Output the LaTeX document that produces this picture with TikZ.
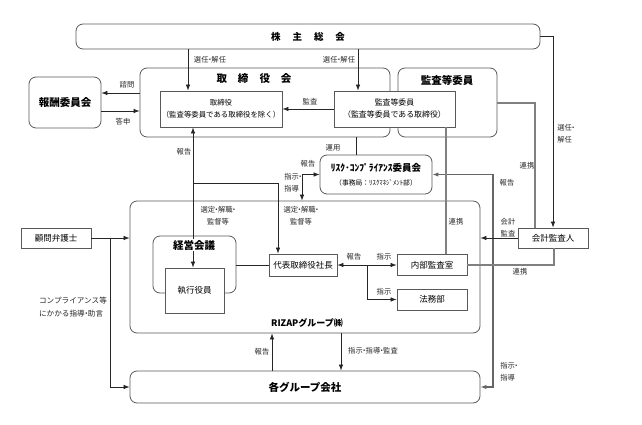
\documentclass[tikz,border=0pt]{standalone}
\usepackage{fontspec}
\setmainfont{Noto Sans CJK JP}
\usetikzlibrary{arrows.meta}
\newcommand{\ndot}{\kern-2.2pt・\kern-2.2pt}

\begin{document}
\begin{tikzpicture}[x=1pt,y=-1pt,
    >={Latex[length=6pt,width=4.5pt]},
    frame/.style={draw=black!65,rounded corners=7pt,line width=0.8pt,inner sep=0pt,align=center},
    box/.style={draw=black!65,fill=white,line width=0.8pt,inner sep=0pt,align=center,font=\fontsize{8.5}{10}\selectfont},
    ttl/.style={inner sep=1pt,font=\bfseries\fontsize{10.5}{12}\selectfont},
    lbl/.style={inner sep=0pt,align=center,text=black!85,font=\fontsize{7.3}{12}\selectfont},
    arr/.style={->,black!85,line width=0.7pt},
    link/.style={black!50,line width=2.4pt}]
        \useasboundingbox (0,0) rectangle (642,425);
        % top
        \node[frame,minimum width=464,minimum height=25,font=\bfseries\fontsize{9.5}{11}\selectfont] (soukai) at (308,36.5) {株\hspace{12pt}主\hspace{12pt}総\hspace{12pt}会};
        \node[frame,minimum width=250,minimum height=69] (torikai) at (265,102.5) {};
        \node[ttl] (torikaittl) at (254,79) {取\hspace{11pt}締\hspace{11pt}役\hspace{11pt}会};
        \node[frame,minimum width=99,minimum height=69] (iinkai) at (447.5,102.5) {};
        \node[ttl] (iinkaittl) at (447,80) {監査等委員};
        \node[box,minimum width=122,minimum height=36,font=\fontsize{7.4}{12}\selectfont] (tori) at (221,109) {取締役\\（監査等委員である取締役を除く）};
        \node[box,minimum width=121,minimum height=36,font=\fontsize{7.9}{12}\selectfont] (kansa) at (394.5,109) {監査等委員\\（監査等委員である取締役）};
        \node[frame,minimum width=72,minimum height=51,font=\bfseries\fontsize{10.5}{12}\selectfont] (housyu) at (65,102.5) {報酬委員会};
        \node[frame,minimum width=112,minimum height=39,font=\fontsize{6.8}{14}\selectfont] (risk) at (376,174.5) {{\bfseries\fontsize{9.5}{14}\selectfont ﾘｽｸ･ｺﾝﾌﾟﾗｲｱﾝｽ委員会}\\（事務局：ﾘｽｸﾏﾈｼﾞﾒﾝﾄ部）};
        % group
        \node[frame,minimum width=350,minimum height=132] (rizap) at (305,267) {};
        \node[inner sep=1pt,font=\bfseries\fontsize{9}{10}\selectfont] (rizapttl) at (307,323) {RIZAPグループ㈱};
        \node[frame,minimum width=83,minimum height=57] (keiei) at (194.5,264.5) {};
        \node[box,minimum width=59,minimum height=45] (shikkou) at (194.5,290.5) {執行役員};
        \node[box,minimum width=68,minimum height=22] (daihyo) at (303,265) {代表取締役社長};
        \node[box,minimum width=70,minimum height=21] (naibu) at (432,265) {内部監査室};
        \node[box,minimum width=70,minimum height=21] (houmu) at (432,299.5) {法務部};
        \node[box,minimum width=70,minimum height=20] (kaikei) at (553,238) {会計監査人};
        \node[box,minimum width=70,minimum height=20] (komon) at (56,238) {顧問弁護士};
        \node[frame,minimum width=350,minimum height=32,font=\bfseries\fontsize{10.5}{12}\selectfont] (kaku) at (305,387) {各グループ会社};
        \coordinate (jn) at (193,183);

        % shareholders
        \draw[arr] (188,0 |- soukai.south) -- (188,0 |- tori.north);
        \node[lbl] (l1) at (210,60) {選任\ndot 解任};
        \draw[arr] (358,0 |- soukai.south) -- (358,0 |- kansa.north);
        \node[lbl] (l2) at (339,60) {選任\ndot 解任};
        \draw[arr] (soukai.east) -- (553,0 |- soukai.east) -- (kaikei.north);
        \node[lbl,align=left] (l3) at (566,134) {選任\ndot\\解任};
        % board
        \draw[arr] (kansa.west) -- (tori.east);
        \node[lbl] (l4) at (310,102) {監査};
        \draw[arr] (torikai.west |- 0,93) -- (housyu.east |- 0,93);
        \node[lbl] (l5) at (127,85) {諮問};
        \draw[arr] (housyu.east |- 0,111) -- (torikai.west |- 0,111);
        \node[lbl] (l6) at (123,122) {答申};
        \draw[black!85,line width=0.7pt] (356,0 |- torikai.south) -- (356,0 |- risk.north);
        \node[lbl] (l7) at (333,148) {運用};
        % risk committee
        \draw[arr,<->] (302,0 |- rizap.north) -- (302,0 |- risk.west) -- (risk.west);
        \node[lbl] (l8) at (308,164) {報告};
        \node[lbl,align=left] (l9) at (293,183) {指示\ndot\\指導};
        \draw[<->,black!60,line width=1.3pt] (risk.east) -- (493,0 |- risk.east) -- (493,0 |- kaku.east) -- (kaku.east);
        \node[lbl] (l10) at (507,183) {報告};
        \node[lbl,align=left] (l11) at (509,372) {指示\ndot\\指導};
        % appointment
        \draw[arr,<->] (193,0 |- tori.south) -- (193,0 |- shikkou.north);
        \draw[arr] (jn) -- (278,0 |- jn) -- (278,0 |- daihyo.north);
        \node[lbl] (l12) at (184,152) {報告};
        \node[lbl] (l13) at (218,216) {選定\ndot 解職\ndot\\監督等};
        \node[lbl] (l14) at (301,216) {選定\ndot 解職\ndot\\監督等};
        \draw[black!85,line width=0.7pt] (keiei.east |- daihyo.west) -- (daihyo.west);
        \draw[arr,<->] (daihyo.east) -- (naibu.west);
        \node[lbl] (l15) at (354,257) {報告};
        \node[lbl] (l16) at (384,257) {指示};
        \draw[arr] (367,0 |- daihyo.east) -- (367,0 |- houmu.west) -- (houmu.west);
        \node[lbl] (l17) at (384,292) {指示};
        % cooperation
        \draw[link] (446,0 |- kansa.south) -- (446,0 |- naibu.north);
        \node[lbl] (l18) at (456,222) {連携};
        \draw[link] (iinkai.east |- 0,103) -- (535,103) -- (535,0 |- kaikei.north);
        \node[lbl] (l19) at (527,166) {連携};
        \draw[link] (554,0 |- kaikei.south) -- (554,265) -- (naibu.east |- 0,265);
        \node[lbl] (l20) at (520,272) {連携};
        \draw[arr] (kaikei.west) -- (rizap.east |- kaikei.west);
        \node[lbl] (l21) at (508,228) {会計\\監査};
        % lawyer
        \draw[arr] (komon.east) -- (rizap.west |- komon.east);
        \draw[arr] (110,0 |- komon.east) -- (110,0 |- kaku.west) -- (kaku.west);
        \node[lbl,align=left,font=\fontsize{7.6}{13}\selectfont] (l22) at (73,307) {コンプライアンス等\\にかかる指導\ndot 助言};
        % subsidiaries
        \draw[arr] (272,0 |- kaku.north) -- (272,0 |- rizap.south);
        \node[lbl] (l23) at (262,352) {報告};
        \draw[arr] (341,0 |- rizap.south) -- (341,0 |- kaku.north);
        \node[lbl] (l24) at (373,351) {指示\ndot 指導\ndot 監査};
        \node[ttl,fill=white] (keieittl) at (194,245) {経営会議};
    \end{tikzpicture}
\end{document}
